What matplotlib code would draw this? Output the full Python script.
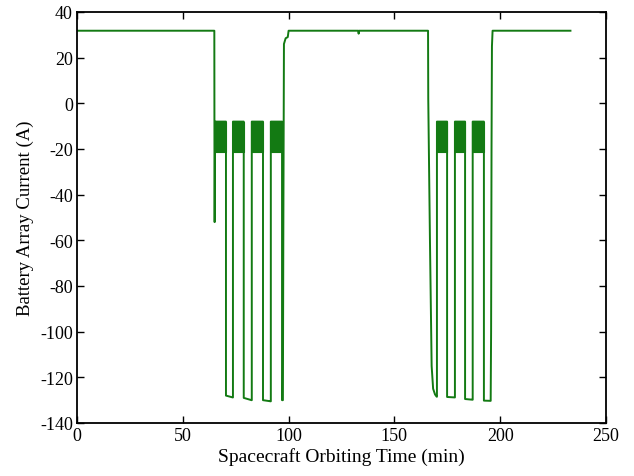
import matplotlib
matplotlib.use("Agg")
import matplotlib.pyplot as plt

# envelope of the battery current trace (min, A)
time_min = [0, 64.9, 65.0, 65.1, 65.2, 65.2, 70.4, 70.4, 73.6,
            73.7, 73.7, 78.8, 78.8, 82.5, 82.6, 82.6, 87.9, 87.9, 91.5,
            91.6, 91.6, 96.9, 96.9, 97.3, 97.5, 97.8, 98.6, 99.6, 100.0,
            132.9, 133.1, 133.3,
            165.9, 166.0, 166.8, 167.6, 168.3, 169.2, 170.0, 170.1, 170.1,
            174.9, 174.9, 178.5, 178.6, 178.6, 183.4, 183.4, 186.9, 187.0,
            187.0, 192.3, 192.3, 195.5, 195.7, 195.9, 196.1, 196.4, 233.2]
current_a = [31.8, 31.8, -52, -52, -21.5, -8, -8, -128, -128.8,
             -128.8, -8, -8, -129, -130, -130, -8, -8, -130, -130.5,
             -130.5, -8, -8, -130, -130, -60, 26, 28.5, 29, 31.8,
             31.8, 30.5, 31.8,
             31.8, 2, -60, -115, -125, -127.5, -128.5, -128.5, -8,
             -8, -128.6, -128.8, -128.8, -8, -8, -129.5, -129.8, -129.8,
             -8, -8, -130.2, -130.3, -100, -20, 25, 31.8, 31.8]

# intervals where the current chatters between two levels
burst_start = [65.2, 73.7, 82.6, 91.6, 170.1, 178.6, 187.0]
burst_end = [70.4, 78.8, 87.9, 96.9, 174.9, 183.4, 192.3]
burst_top = -8
burst_bottom = -21.5

xticks = [0, 50, 100, 150, 200, 250]
yticks = list(range(-140, 41, 20))

green = "#137a13"

plt.rcParams["font.family"] = ["Liberation Serif", "DejaVu Serif"]
plt.rcParams["axes.unicode_minus"] = False
fig = plt.figure(figsize=(6.34, 4.77), dpi=100)
ax = fig.add_axes([77 / 634, 53 / 477, 529 / 634, 411 / 477])

ax.plot(time_min, current_a, color=green, lw=1.4)
for s, e in zip(burst_start, burst_end):
    ax.fill_between([s, e], burst_bottom, burst_top, color=green, lw=0.8,
                    edgecolor=green)

ax.set_xlim(0, 250)
ax.set_ylim(-140, 40)
ax.set_xticks(xticks)
ax.set_yticks(yticks)
ax.tick_params(direction="in", top=True, right=True, length=5, width=1,
               labelsize=13, pad=3)
for sp in ax.spines.values():
    sp.set_linewidth(1.3)
ax.set_xlabel("Spacecraft Orbiting Time (min)", fontsize=14, labelpad=2)
ax.set_ylabel("Battery Array Current (A)", fontsize=13.5, labelpad=4)

fig.savefig("out.png", dpi=100)
